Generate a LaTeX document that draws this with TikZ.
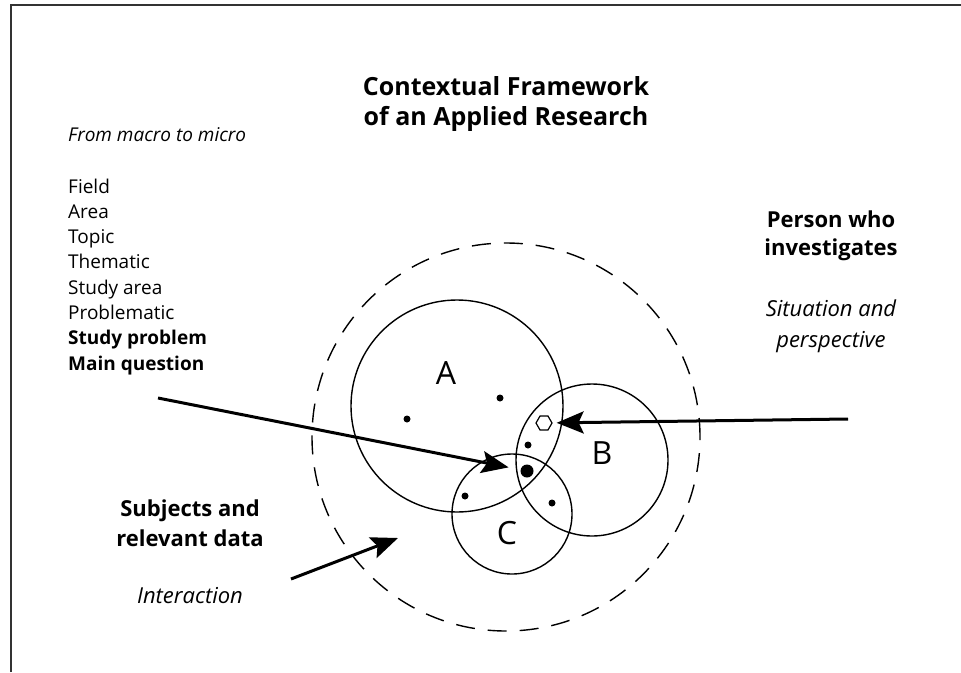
\documentclass[tikz,border=0pt]{standalone}
\usepackage{fontspec}
\setmainfont{Open Sans}
\usetikzlibrary{arrows.meta,shapes.geometric}

\tikzset{
  ring/.style={circle, draw, line width=1.4pt, inner sep=0pt},
  spot/.style={circle, fill, inner sep=0pt, minimum size=7pt},
  pointer/.style={line width=3pt, -{Stealth[length=27pt,width=22pt,inset=5pt]}},
  letter/.style={font=\fontsize{32}{32}\selectfont},
  plain/.style={font=\fontsize{19}{25}\selectfont, inner sep=0pt},
  note/.style={inner sep=0pt, align=center},
}

\begin{document}
\begin{tikzpicture}[x=1pt, y=-1pt]
\useasboundingbox (0,0) rectangle (961,672);
\draw[line width=2pt, black!80] (10.5,672) -- (10.5,4.5) -- (961,4.5);

\node[note, font=\fontsize{25}{30}\selectfont\bfseries] (title) at (506,104)
  {Contextual Framework\\of an Applied Research};

% from macro to micro
\node[plain, anchor=base west, font=\fontsize{19}{25}\selectfont\itshape] (macro) at (68,141) {From macro to micro};
\foreach \w [count=\i] in {Field,Area,Topic,Thematic,Study area,Problematic,\textbf{Study problem},\textbf{Main question}}
  \node[plain, anchor=base west] (item\i) at (68,{193+25.3*(\i-1)}) {\w};

\node[note, font=\fontsize{22}{28}\selectfont\bfseries] (person) at (831,236) {Person who\\investigates};
\node[note, font=\fontsize{22}{31}\selectfont\itshape] (situation) at (831,326) {Situation and\\perspective};
\node[note, font=\fontsize{22}{30}\selectfont\bfseries] (subjects) at (190,523) {Subjects and\\relevant data};
\node[note, font=\fontsize{22}{25}\selectfont\itshape] (interaction) at (190,596) {Interaction};

% circles
\node[ring, dashed, dash pattern=on 19pt off 13pt, minimum size=388pt] (frame) at (506,437) {};
\node[ring, minimum size=212pt] (A) at (457,406) {};
\node[ring, minimum size=152pt] (B) at (592,460) {};
\node[ring, minimum size=120pt] (C) at (512,514) {};
\node[letter] (la) at (446,373) {A};
\node[letter] (lb) at (602,453) {B};
\node[letter] (lc) at (507,533) {C};

\node[spot] (a1) at (407,419) {};
\node[spot] (a2) at (500,398) {};
\node[spot] (b1) at (528,445) {};
\node[spot, minimum size=13pt] (core) at (527,471) {};
\node[spot] (c1) at (465,496) {};
\node[spot] (c2) at (552,503) {};
\node[regular polygon, regular polygon sides=6, draw, fill=white, line width=1.2pt, minimum size=16pt, inner sep=0pt] (hex) at (544,423) {};

% arrows
\coordinate (qtail) at (158,398);
\coordinate (ptail) at (848,419);
\coordinate (stail) at (291,579);
\coordinate (shead) at (398,538);
\draw[pointer, shorten >=12pt] (qtail) -- (core);
\draw[pointer, shorten >=4pt] (ptail) -- (hex);
\draw[pointer] (stail) -- (shead);
\end{tikzpicture}
\end{document}
